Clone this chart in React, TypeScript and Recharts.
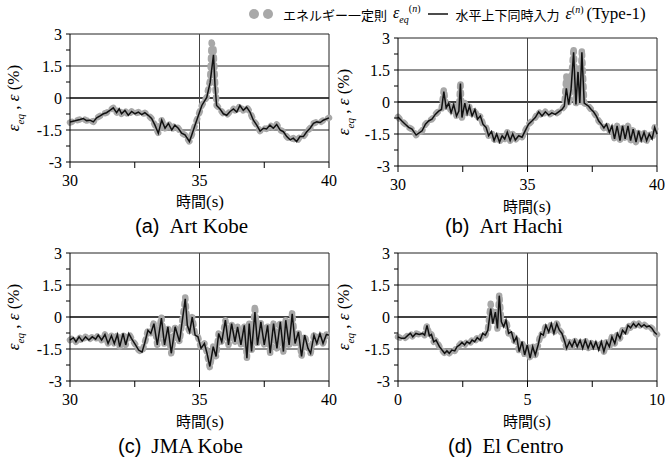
import React from 'react';
import { LineChart, Line, XAxis, YAxis, ReferenceLine } from 'recharts';

const SERIF = '"Liberation Serif", "Times New Roman", serif';
const SANS = '"Liberation Sans", Arial, sans-serif';
const JP = '"Noto Sans CJK JP", sans-serif';

// (a) Art Kobe
const A_T = [30.00,30.19,30.39,30.51,30.64,30.77,30.90,31.03,31.16,31.29,31.41,31.54,31.67,31.80,31.90,31.99,32.12,32.25,32.38,32.51,32.64,32.77,32.89,33.02,33.15,33.28,33.41,33.54,33.67,33.80,33.93,34.05,34.18,34.31,34.44,34.61,34.70,34.83,34.96,35.09,35.28,35.41,35.47,35.54,35.60,35.66,35.79,35.92,36.05,36.18,36.31,36.44,36.56,36.69,36.82,36.95,37.08,37.21,37.34,37.47,37.59,37.72,37.85,37.98,38.11,38.24,38.37,38.50,38.62,38.75,38.88,39.01,39.14,39.27,39.40,39.53,39.66,39.78,40.00];
const A_SIM = [-1.12,-1.07,-1.01,-0.96,-1.06,-1.04,-1.12,-0.93,-0.84,-0.74,-0.69,-0.58,-0.46,-0.69,-0.51,-0.74,-0.58,-0.81,-0.63,-0.74,-0.66,-0.78,-0.69,-0.81,-0.96,-1.27,-1.65,-1.04,-1.42,-1.19,-1.50,-1.27,-1.42,-1.65,-1.73,-2.04,-1.73,-1.27,-0.81,-0.35,0.03,0.72,1.33,2.02,0.57,-0.35,-0.51,-0.74,-0.81,-0.63,-0.51,-0.66,-0.35,-0.58,-0.43,-0.66,-1.04,-1.27,-1.55,-1.42,-1.45,-1.27,-1.42,-1.24,-1.50,-1.58,-1.81,-1.96,-1.88,-2.04,-1.81,-1.81,-1.58,-1.42,-1.19,-1.12,-1.15,-1.04,-0.93];
const A_EQ = [-1.15,-1.07,-1.01,-0.96,-1.06,-1.04,-1.12,-0.93,-0.84,-0.74,-0.69,-0.58,-0.46,-0.69,-0.51,-0.74,-0.58,-0.81,-0.63,-0.74,-0.66,-0.78,-0.69,-0.81,-0.96,-1.27,-1.65,-1.04,-1.42,-1.19,-1.50,-1.27,-1.42,-1.65,-1.73,-2.04,-1.73,-1.27,-0.81,-0.35,0.05,0.85,2.60,2.30,0.75,-0.35,-0.51,-0.74,-0.81,-0.63,-0.51,-0.66,-0.35,-0.58,-0.43,-0.66,-1.04,-1.27,-1.55,-1.42,-1.45,-1.27,-1.42,-1.24,-1.50,-1.58,-1.81,-1.96,-1.88,-2.04,-1.81,-1.81,-1.58,-1.42,-1.19,-1.12,-1.15,-1.04,-0.93];

// (b) Art Hachi
const B_T = [30.00,30.15,30.28,30.41,30.54,30.70,30.93,31.06,31.18,31.31,31.44,31.57,31.68,31.77,31.86,31.96,32.05,32.15,32.26,32.35,32.41,32.47,32.58,32.67,32.76,32.86,32.97,33.07,33.18,33.28,33.40,33.50,33.61,33.71,33.81,33.92,34.02,34.12,34.22,34.33,34.43,34.53,34.66,34.79,34.91,35.04,35.17,35.30,35.43,35.56,35.69,35.82,35.94,36.07,36.20,36.33,36.42,36.50,36.59,36.68,36.78,36.87,36.95,37.02,37.10,37.19,37.27,37.36,37.46,37.55,37.66,37.75,37.85,37.95,38.05,38.16,38.26,38.36,38.46,38.57,38.67,38.77,38.88,38.98,39.08,39.19,39.29,39.39,39.50,39.60,39.70,39.81,39.91,40.00];
const B_SIM = [-0.70,-0.89,-1.04,-1.19,-1.27,-1.55,-1.35,-1.04,-0.89,-0.81,-0.58,-0.43,-0.35,0.49,-0.28,-0.05,-0.51,-0.12,-0.66,-0.43,0.87,-0.73,-0.05,-0.55,-0.20,-0.66,-0.35,-0.81,-0.66,-1.04,-1.19,-1.58,-1.38,-1.81,-1.50,-1.88,-1.58,-1.73,-1.42,-1.81,-1.50,-1.78,-1.58,-1.65,-1.35,-1.04,-0.89,-0.73,-0.46,-0.66,-0.46,-0.61,-0.51,-0.58,-0.46,-0.35,-0.20,0.64,-0.12,0.57,2.33,-0.12,1.41,-0.05,2.33,-0.05,-0.12,-0.20,-0.35,-0.46,-0.66,-0.89,-1.04,-1.22,-1.04,-1.42,-1.12,-1.73,-1.12,-1.81,-1.12,-1.73,-1.12,-1.81,-1.27,-1.88,-1.35,-1.81,-1.42,-1.81,-1.50,-1.73,-1.19,-1.50];
const B_EQ = [-0.70,-0.89,-1.04,-1.19,-1.27,-1.55,-1.35,-1.04,-0.89,-0.81,-0.58,-0.43,-0.35,0.60,-0.28,-0.05,-0.51,-0.12,-0.66,-0.43,0.95,-0.73,-0.05,-0.55,-0.20,-0.66,-0.35,-0.81,-0.66,-1.04,-1.19,-1.58,-1.38,-1.81,-1.50,-1.88,-1.58,-1.73,-1.42,-1.81,-1.50,-1.78,-1.58,-1.65,-1.35,-1.04,-0.89,-0.73,-0.46,-0.66,-0.46,-0.61,-0.51,-0.58,-0.46,-0.35,-0.20,1.20,-0.12,0.90,2.55,-0.12,1.60,-0.05,2.45,-0.05,-0.12,-0.20,-0.35,-0.46,-0.66,-0.89,-1.04,-1.22,-1.04,-1.42,-1.12,-1.73,-1.12,-1.81,-1.12,-1.73,-1.12,-1.81,-1.27,-1.88,-1.35,-1.81,-1.42,-1.81,-1.50,-1.73,-1.19,-1.50];

// (c) JMA Kobe
const C_T = [30.00,30.13,30.23,30.35,30.47,30.60,30.73,30.86,30.99,31.09,31.22,31.35,31.47,31.60,31.71,31.83,31.92,32.05,32.15,32.27,32.37,32.53,32.65,32.78,32.88,33.01,33.12,33.24,33.37,33.53,33.65,33.78,33.91,34.06,34.23,34.32,34.40,34.45,34.53,34.62,34.72,34.83,34.94,35.06,35.19,35.29,35.40,35.53,35.64,35.74,35.86,36.00,36.12,36.24,36.37,36.47,36.60,36.73,36.83,36.92,37.01,37.14,37.24,37.37,37.50,37.63,37.73,37.86,37.99,38.12,38.24,38.33,38.46,38.58,38.69,38.82,38.94,39.06,39.19,39.29,39.42,39.53,39.65,39.77,39.90,40.00];
const C_SIM = [-1.08,-0.97,-1.16,-0.93,-1.13,-0.93,-1.08,-0.93,-1.04,-0.85,-1.08,-0.82,-1.24,-0.88,-1.24,-0.82,-1.39,-0.77,-1.31,-0.77,-1.00,-1.31,-1.55,-1.65,-1.24,-0.62,-0.77,-0.31,-1.31,-0.05,-1.31,-0.46,-1.70,-0.46,-1.16,-0.31,0.39,0.85,-0.39,-0.70,0.00,-0.85,-0.93,-1.47,-1.24,-1.70,-2.32,-1.39,-1.85,-0.77,-1.16,-0.15,-1.31,-0.31,-1.16,-0.46,-1.31,-0.39,-1.93,-0.31,-1.62,0.23,-1.31,-0.23,-1.31,-0.39,-1.70,-0.31,-1.47,-0.23,-1.62,-0.15,-1.31,0.15,-1.24,-0.70,-1.85,-0.85,-1.47,-1.70,-0.85,-1.24,-0.77,-1.24,-0.82,-0.85];
const C_EQ = [-1.08,-0.97,-1.16,-0.93,-1.13,-0.93,-1.08,-0.93,-1.04,-0.85,-1.08,-0.82,-1.24,-0.88,-1.24,-0.82,-1.39,-0.77,-1.31,-0.77,-1.00,-1.31,-1.55,-1.65,-1.24,-0.62,-0.77,-0.25,-1.31,0.02,-1.31,-0.46,-1.70,-0.46,-1.16,-0.31,0.39,0.93,-0.39,-0.70,0.00,-0.85,-0.93,-1.47,-1.24,-1.70,-2.38,-1.39,-1.85,-0.77,-1.16,-0.15,-1.31,-0.31,-1.16,-0.46,-1.31,-0.39,-1.93,-0.31,-1.62,0.54,-1.31,-0.23,-1.31,-0.39,-1.70,-0.31,-1.47,-0.23,-1.62,-0.15,-1.31,0.22,-1.24,-0.70,-1.85,-0.85,-1.47,-1.70,-0.85,-1.24,-0.77,-1.24,-0.82,-0.85];

// (d) El Centro
const D_T = [0.00,0.13,0.26,0.39,0.48,0.57,0.69,0.82,0.95,1.03,1.12,1.21,1.29,1.38,1.47,1.60,1.70,1.80,1.89,1.98,2.08,2.19,2.28,2.38,2.47,2.57,2.66,2.77,2.86,2.96,3.06,3.17,3.27,3.37,3.47,3.58,3.66,3.76,3.84,3.91,3.99,4.08,4.17,4.27,4.38,4.48,4.58,4.68,4.79,4.89,4.99,5.10,5.20,5.30,5.41,5.51,5.61,5.71,5.82,5.92,6.02,6.13,6.23,6.33,6.44,6.51,6.62,6.72,6.82,6.92,7.03,7.13,7.23,7.34,7.44,7.54,7.64,7.75,7.85,7.95,8.06,8.16,8.26,8.37,8.47,8.57,8.67,8.78,8.88,8.98,9.09,9.19,9.29,9.40,9.50,9.60,9.70,9.81,9.91,10.00];
const D_SIM = [-0.93,-1.00,-1.00,-0.85,-0.77,-0.93,-0.77,-0.82,-0.77,-0.85,-0.39,-0.88,-0.82,-1.16,-1.08,-1.39,-1.55,-1.70,-1.59,-1.70,-1.55,-1.59,-1.39,-1.31,-1.19,-1.31,-1.16,-1.24,-1.08,-1.16,-0.97,-1.08,-0.77,-0.85,-0.62,0.39,-0.31,0.23,-0.54,1.00,-0.23,-0.46,-0.15,-0.77,-0.70,-1.16,-0.93,-1.62,-1.16,-1.78,-1.31,-1.93,-1.39,-1.78,-1.31,-0.77,-0.85,-0.39,-0.70,-0.31,-0.77,-0.31,-0.62,-0.77,-1.16,-1.47,-1.16,-1.39,-1.08,-1.39,-1.08,-1.47,-1.08,-1.47,-1.16,-1.47,-1.16,-1.55,-1.16,-1.62,-1.16,-1.39,-0.93,-1.24,-0.77,-1.00,-0.62,-0.77,-0.39,-0.51,-0.31,-0.46,-0.31,-0.46,-0.36,-0.46,-0.42,-0.54,-0.73,-0.82];
const D_EQ = [-0.93,-1.00,-1.00,-0.85,-0.77,-0.93,-0.77,-0.82,-0.77,-0.85,-0.39,-0.88,-0.82,-1.16,-1.08,-1.39,-1.55,-1.70,-1.59,-1.70,-1.55,-1.59,-1.39,-1.31,-1.19,-1.31,-1.16,-1.24,-1.08,-1.16,-0.97,-1.08,-0.77,-0.85,-0.62,0.62,-0.31,0.23,-0.54,1.08,-0.23,-0.46,-0.15,-0.77,-0.70,-1.16,-0.93,-1.62,-1.16,-1.78,-1.31,-1.95,-1.39,-1.78,-1.31,-0.77,-0.85,-0.39,-0.70,-0.31,-0.77,-0.31,-0.62,-0.77,-1.16,-1.47,-1.16,-1.39,-1.08,-1.39,-1.08,-1.47,-1.08,-1.47,-1.16,-1.47,-1.16,-1.55,-1.16,-1.62,-1.16,-1.39,-0.93,-1.24,-0.77,-1.00,-0.62,-0.77,-0.39,-0.51,-0.31,-0.46,-0.31,-0.46,-0.36,-0.46,-0.42,-0.54,-0.73,-0.82];

const Y_TICKS = [-3, -2.25, -1.5, -0.75, 0, 0.75, 1.5, 2.25, 3];
const X_TICKS_30 = [30, 32.5, 35, 37.5, 40];
const X_TICKS_0 = [0, 2.5, 5, 7.5, 10];

const PW = 259;
const PH = 128;

const Panel = ({ left, top, t, eq, sim, xTicks }: any) => {
  const data = t.map((tt: number, i: number) => ({ t: tt, eq: eq[i], sim: sim[i] }));
  const x0 = xTicks[0];
  const x1 = xTicks[xTicks.length - 1];
  return (
    <div style={{ position: 'absolute', left: left - 60, top: top - 10 }}>
      <LineChart width={PW + 70} height={PH + 45} data={data} margin={{ top: 10, right: 10, left: 0, bottom: 5 }}>
        <XAxis
          dataKey="t"
          type="number"
          domain={[x0, x1]}
          ticks={xTicks}
          interval={0}
          height={30}
          tickSize={6}
          tickMargin={7}
          axisLine={{ stroke: '#000' }}
          tickLine={{ stroke: '#000' }}
          tick={{ fill: '#000', fontSize: 16, fontFamily: SERIF }}
          tickFormatter={(v: number) => (v % 5 === 0 ? String(v) : '')}
        />
        <YAxis
          type="number"
          domain={[-3, 3]}
          ticks={Y_TICKS}
          interval={0}
          width={60}
          tickSize={4}
          tickMargin={4}
          axisLine={{ stroke: '#000' }}
          tickLine={{ stroke: '#000' }}
          tick={{ fill: '#000', fontSize: 16, fontFamily: SERIF }}
          tickFormatter={(v: number) => (Math.abs(v % 1.5) < 1e-9 ? String(v) : '')}
        />
        <ReferenceLine y={1.5} stroke="#222" strokeWidth={1} />
        <ReferenceLine y={-1.5} stroke="#222" strokeWidth={1} />
        <ReferenceLine y={0} stroke="#000" strokeWidth={1.6} />
        <ReferenceLine y={3} stroke="#222" strokeWidth={1} />
        <ReferenceLine x={(x0 + x1) / 2} stroke="#444" strokeWidth={1} />
        <ReferenceLine x={x1} stroke="#222" strokeWidth={1} />
        <Line
          type="linear"
          dataKey="eq"
          stroke="#a8a8a8"
          strokeWidth={6.5}
          strokeDasharray="2 6"
          strokeLinecap="round"
          strokeLinejoin="round"
          dot={false}
          isAnimationActive={false}
        />
        <Line
          type="linear"
          dataKey="sim"
          stroke="#111"
          strokeWidth={1.5}
          dot={false}
          isAnimationActive={false}
        />
      </LineChart>
    </div>
  );
};

const YLabel = ({ cx, cy }: any) => (
  <div
    style={{
      position: 'absolute',
      left: cx,
      top: cy,
      transform: 'translate(-50%, -50%) rotate(-90deg)',
      whiteSpace: 'nowrap',
      fontFamily: SERIF,
      fontSize: 17,
      lineHeight: '20px',
    }}
  >
    <i>ε</i>
    <sub style={{ fontSize: 11, fontStyle: 'italic' }}>eq</sub> , <i>ε</i> (%)
  </div>
);

const XLabel = ({ cx, cy }: any) => (
  <div
    style={{
      position: 'absolute',
      left: cx,
      top: cy,
      transform: 'translate(-50%, -50%)',
      whiteSpace: 'nowrap',
      lineHeight: '20px',
    }}
  >
    <span style={{ fontFamily: JP, fontSize: 15 }}>時間</span>
    <span style={{ fontFamily: SERIF, fontSize: 17 }}>(s)</span>
  </div>
);

const Caption = ({ left, cy, tag, name }: any) => (
  <div style={{ position: 'absolute', left, top: cy - 12, whiteSpace: 'nowrap', lineHeight: '24px' }}>
    <span style={{ fontFamily: SANS, fontSize: 20 }}>{tag}</span>
    <span style={{ fontFamily: SERIF, fontSize: 21, marginLeft: 10 }}>{name}</span>
  </div>
);

const Legend = () => (
  <div
    style={{
      position: 'absolute',
      left: 248,
      top: 3,
      height: 22,
      display: 'flex',
      alignItems: 'center',
      whiteSpace: 'nowrap',
    }}
  >
    <svg width={28} height={12}>
      <circle cx={6} cy={6} r={5} fill="#a8a8a8" />
      <circle cx={20} cy={6} r={5} fill="#a8a8a8" />
    </svg>
    <span style={{ marginLeft: 7, fontFamily: JP, fontSize: 13 }}>エネルギー一定則</span>
    <span style={{ marginLeft: 6, fontFamily: SERIF, fontSize: 16 }}>
      <i>ε</i>
      <sub style={{ fontSize: 10, fontStyle: 'italic' }}>eq</sub>
      <sup style={{ fontSize: 10 }}>(<i>n</i>)</sup>
    </span>
    <svg width={20} height={4} style={{ marginLeft: 8 }}>
      <line x1={0} x2={20} y1={2} y2={2} stroke="#111" strokeWidth={1.5} />
    </svg>
    <span style={{ marginLeft: 7, fontFamily: JP, fontSize: 13 }}>水平上下同時入力</span>
    <span style={{ marginLeft: 6, fontFamily: SERIF, fontSize: 16 }}>
      <i>ε</i>
      <sup style={{ fontSize: 10 }}>(<i>n</i>)</sup>
    </span>
    <span style={{ marginLeft: 3, fontFamily: SERIF, fontSize: 17 }}>(Type-1)</span>
  </div>
);

export default function App() {
  return (
    <div style={{ position: 'absolute', left: 0, top: 0, width: 665, height: 461, background: '#fff', overflow: 'hidden' }}>
      <Legend />
      <Panel left={70} top={34} t={A_T} eq={A_EQ} sim={A_SIM} xTicks={X_TICKS_30} />
      <Panel left={398} top={38} t={B_T} eq={B_EQ} sim={B_SIM} xTicks={X_TICKS_30} />
      <Panel left={70} top={253} t={C_T} eq={C_EQ} sim={C_SIM} xTicks={X_TICKS_30} />
      <Panel left={398} top={253} t={D_T} eq={D_EQ} sim={D_SIM} xTicks={X_TICKS_0} />
      <YLabel cx={17} cy={98} />
      <YLabel cx={347} cy={102} />
      <YLabel cx={17} cy={317} />
      <YLabel cx={347} cy={317} />
      <XLabel cx={200} cy={201} />
      <XLabel cx={527} cy={206} />
      <XLabel cx={200} cy={421} />
      <XLabel cx={527} cy={421} />
      <Caption left={135} cy={226} tag="(a)" name="Art Kobe" />
      <Caption left={445} cy={226} tag="(b)" name="Art Hachi" />
      <Caption left={118} cy={446} tag="(c)" name="JMA Kobe" />
      <Caption left={448} cy={446} tag="(d)" name="El Centro" />
    </div>
  );
}
